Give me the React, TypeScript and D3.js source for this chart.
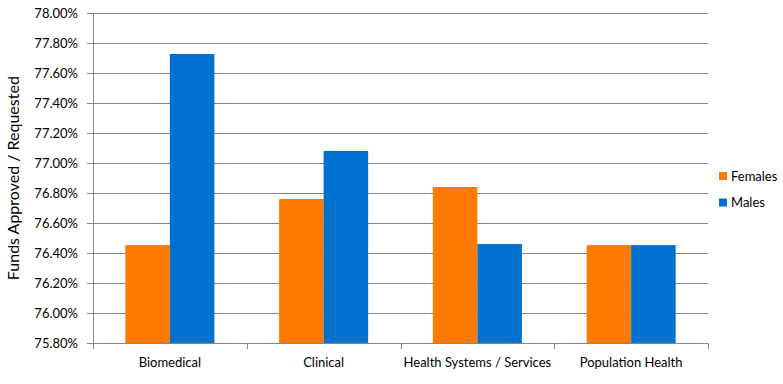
import React, { useEffect, useRef } from 'react';
import * as d3 from 'd3';

const categories = ['Biomedical', 'Clinical', 'Health Systems / Services', 'Population Health'];
const seriesNames = ['Females', 'Males'];
const females = [76.454, 76.761, 76.841, 76.454];
const males = [77.727, 77.081, 76.461, 76.454];
const yTicks = [75.8, 76.0, 76.2, 76.4, 76.6, 76.8, 77.0, 77.2, 77.4, 77.6, 77.8, 78.0];
const colors = ['#FF7A00', '#0071CE'];

const FONT = 'Lato, "Open Sans", sans-serif';

const App = () => {
  const svgRef = useRef<SVGSVGElement>(null);

  useEffect(() => {
    const svg = d3.select(svgRef.current);
    svg.selectAll('*').remove();

    const left = 93, right = 708, top = 13, bottom = 343.3;

    const x = d3.scaleBand<string>().domain(categories).range([left, right]).padding(0);
    const xs = d3.scaleBand<string>().domain(seriesNames).range([0, x.bandwidth()])
      .paddingInner(0).paddingOuter(0.727);
    const y = d3.scaleLinear().domain([75.8, 78.0]).range([bottom, top]);

    const grid = '#878787';

    // gridlines + y ticks
    svg.append('g')
      .selectAll('line')
      .data(yTicks)
      .join('line')
      .attr('x1', left - 6)
      .attr('x2', right)
      .attr('y1', d => Math.round(y(d)) + 0.5)
      .attr('y2', d => Math.round(y(d)) + 0.5)
      .attr('stroke', grid)
      .attr('stroke-width', 1);

    svg.append('g')
      .selectAll('text')
      .data(yTicks)
      .join('text')
      .attr('x', left - 15)
      .attr('y', d => y(d))
      .attr('dy', '0.35em')
      .attr('text-anchor', 'end')
      .attr('font-family', FONT)
      .attr('font-size', 13)
      .attr('fill', '#000')
      .text(d => d.toFixed(2) + '%');

    // bars
    const rows = categories.map((c, i) => ({ c, vals: [females[i], males[i]] }));
    const groups = svg.append('g')
      .selectAll('g')
      .data(rows)
      .join('g')
      .attr('transform', d => `translate(${x(d.c)},0)`);

    groups.selectAll('rect')
      .data(d => d.vals.map((v, j) => ({ v, s: seriesNames[j], j })))
      .join('rect')
      .attr('x', d => xs(d.s)!)
      .attr('width', xs.bandwidth())
      .attr('y', d => y(d.v))
      .attr('height', d => bottom - y(d.v))
      .attr('fill', d => colors[d.j]);

    // axes lines
    svg.append('line')
      .attr('x1', Math.round(left) + 0.5).attr('x2', Math.round(left) + 0.5)
      .attr('y1', top).attr('y2', bottom)
      .attr('stroke', grid);
    svg.append('line')
      .attr('x1', left).attr('x2', right)
      .attr('y1', Math.round(bottom) + 0.5).attr('y2', Math.round(bottom) + 0.5)
      .attr('stroke', grid);

    const boundaries = d3.range(categories.length + 1).map(i => left + i * x.step());
    svg.append('g')
      .selectAll('line')
      .data(boundaries)
      .join('line')
      .attr('x1', d => Math.round(d) + 0.5)
      .attr('x2', d => Math.round(d) + 0.5)
      .attr('y1', bottom)
      .attr('y2', bottom + 6)
      .attr('stroke', grid);

    svg.append('g')
      .selectAll('text')
      .data(categories)
      .join('text')
      .attr('x', d => x(d)! + x.bandwidth() / 2)
      .attr('y', 367)
      .attr('text-anchor', 'middle')
      .attr('font-family', FONT)
      .attr('font-size', 13)
      .attr('fill', '#000')
      .text(d => d);

    // y axis title
    svg.append('text')
      .attr('transform', `translate(19,${(top + bottom) / 2}) rotate(-90)`)
      .attr('text-anchor', 'middle')
      .attr('font-family', FONT)
      .attr('font-size', 16)
      .attr('fill', '#000')
      .text('Funds Approved / Requested');

    // legend
    const legend = svg.append('g')
      .selectAll('g')
      .data(seriesNames)
      .join('g')
      .attr('transform', (d, i) => `translate(719,${172 + i * 26.5})`);
    legend.append('rect')
      .attr('width', 8).attr('height', 8)
      .attr('fill', (d, i) => colors[i]);
    legend.append('text')
      .attr('x', 12)
      .attr('y', 4)
      .attr('dy', '0.35em')
      .attr('font-family', FONT)
      .attr('font-size', 13)
      .attr('fill', '#000')
      .text(d => d);
  }, []);

  return (
    <svg ref={svgRef} width={783} height={384}
      style={{ position: 'absolute', left: 0, top: 0, background: '#fff' }} />
  );
};

export default App;
